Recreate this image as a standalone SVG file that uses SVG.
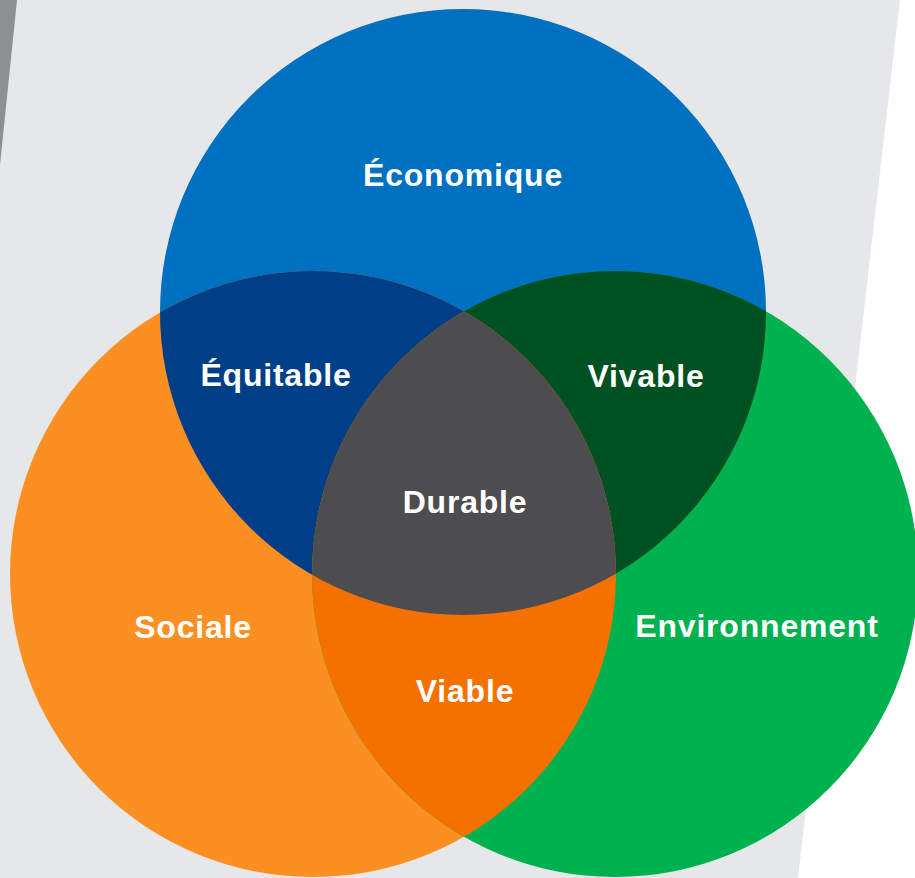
<svg xmlns="http://www.w3.org/2000/svg" width="915" height="878" viewBox="0 0 915 878">
<style>
.lbl{font-family:"Liberation Sans",Arial,Helvetica,sans-serif;font-weight:bold;font-size:32px;letter-spacing:0.8px;fill:#ffffff;text-anchor:middle}
</style>
<defs>
<clipPath id="cBlue"><circle cx="463" cy="312" r="303"/></clipPath>
<clipPath id="cOrange"><circle cx="313" cy="574" r="303"/></clipPath>
<clipPath id="cGreen"><circle cx="615" cy="574" r="303"/></clipPath>
</defs>
<rect x="0" y="0" width="915" height="878" fill="#ffffff"/>
<polygon points="0,0 900,0 798,878 0,878" fill="#e6e7e8"/>
<polygon points="0,0 17,0 0,165" fill="#8e8f93"/>
<g id="economique"><circle cx="463" cy="312" r="303" fill="#0070c0"/></g>
<g id="sociale"><circle cx="313" cy="574" r="303" fill="#fb8f22"/></g>
<g id="environnement"><circle cx="615" cy="574" r="303" fill="#00b14f"/></g>
<g id="equitable"><g clip-path="url(#cBlue)"><circle cx="313" cy="574" r="303" fill="#003f87"/></g></g>
<g id="vivable"><g clip-path="url(#cBlue)"><circle cx="615" cy="574" r="303" fill="#005121"/></g></g>
<g id="viable"><g clip-path="url(#cOrange)"><circle cx="615" cy="574" r="303" fill="#f47100"/></g></g>
<g id="durable"><g clip-path="url(#cBlue)"><g clip-path="url(#cOrange)"><circle cx="615" cy="574" r="303" fill="#4d4d4f"/></g></g></g>
<g id="labels">
<text class="lbl" x="463" y="186">Économique</text>
<text class="lbl" x="276" y="386">Équitable</text>
<text class="lbl" x="646" y="387">Vivable</text>
<text class="lbl" x="465" y="513">Durable</text>
<text class="lbl" x="193" y="638">Sociale</text>
<text class="lbl" x="757" y="637">Environnement</text>
<text class="lbl" x="465" y="702">Viable</text>
</g>
<g id="connectors"/>
</svg>
